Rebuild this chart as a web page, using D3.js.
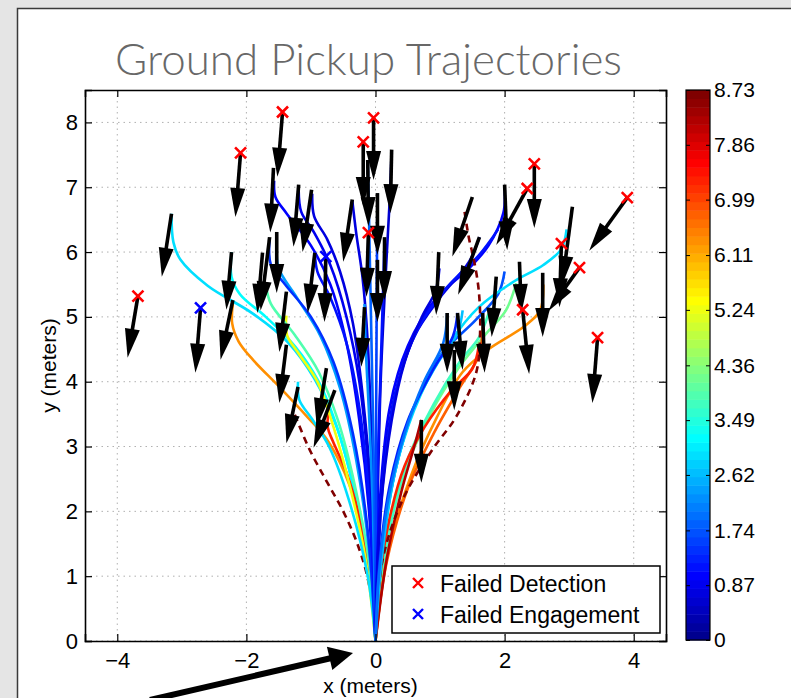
<!DOCTYPE html>
<html><head><meta charset="utf-8">
<script src="https://cdn.jsdelivr.net/npm/d3@7"></script>
<style>
html,body{margin:0;padding:0;background:#e6e6e6;}
svg{display:block;}
text{font-family:"Liberation Sans",Arial,Helvetica,sans-serif;}
</style></head>
<body>
<svg id="c" width="791" height="698"></svg>
<script>
// ---------- data ----------
const titleText = "Ground Pickup Trajectories";
const xLabel = "x (meters)";
const yLabel = "y (meters)";
const xTicks = [-4, -2, 0, 2, 4];
const yTicks = [0, 1, 2, 3, 4, 5, 6, 7, 8];
const cbarTicks = [0, 0.87, 1.74, 2.62, 3.49, 4.36, 5.24, 6.11, 6.99, 7.86, 8.73];
const cbarMax = 8.73;
const legendLabels = ["Failed Detection", "Failed Engagement"];

// failed detection markers (red x)
const failedDetection = [
  [-3.68,5.32],[-2.09,7.53],[-1.44,8.16],[-0.19,7.70],[-0.03,8.07],[-0.11,6.30],
  [2.46,7.36],[2.35,6.98],[3.90,6.84],[2.88,6.13],[3.16,5.76],[2.28,5.11],[3.44,4.68]
];
// failed engagement markers (blue x)
const failedEngagement = [[-2.71,5.14],[-0.77,5.93]];

// trajectory values (colour) and points (end point first, robot at origin)
const trajValues = [
  3.0, 3.2, 6.3, 8.73, 7.3, 5.3, 3.9, 2.9, 2.4, 1.0, 0.9, 0.7, 1.4, 1.2, 0.8, 2.2, 1.9, 0.6, 1.2, 1.6,
  1.0, 0.8, 1.1, 0.7, 1.7, 3.0, 4.1, 3.8, 6.3, 6.7, 7.3, 8.2, 8.73, 2.7, 1.3, 2.0
];
const trajDashed = [
  false,false,false,true,false,false,false,false,false,false,false,false,false,false,false,false,false,false,false,false,
  false,false,false,false,false,false,false,false,false,false,false,false,true,false,false,false
];
const trajPoints = [
  [[-3.16,6.59],[-3.13,6.15],[-3.02,5.88],[-2.6,5.48],[-1.9,5.05],[-1.35,4.6],[-0.95,4.05],[-0.6,3.3],[-0.3,2.2],[-0.08,1.0],[0,0]],
  [[-2.23,6.0],[-2.23,5.62],[-2.1,5.35],[-1.7,5.0],[-1.25,4.55],[-0.88,4.0],[-0.58,3.25],[-0.3,2.2],[-0.08,1.0],[0,0]],
  [[-2.21,5.2],[-2.22,4.9],[-2.12,4.62],[-1.9,4.34],[-1.49,3.92],[-1.05,3.45],[-0.76,3.12],[-0.48,2.6],[-0.27,2.0],[-0.1,1.1],[0,0]],
  [[-1.25,3.49],[-1.02,2.95],[-0.75,2.45],[-0.51,2.02],[-0.3,1.55],[-0.14,1.05],[-0.04,0.5],[0,0]],
  [[-0.72,3.58],[-0.74,3.3],[-0.66,3.08],[-0.45,2.6],[-0.25,1.9],[-0.08,0.9],[0,0]],
  [[-1.38,5.02],[-1.37,4.72],[-1.18,4.42],[-0.9,4.0],[-0.65,3.3],[-0.4,2.4],[-0.16,1.3],[0,0]],
  [[-1.69,5.45],[-1.62,5.2],[-1.25,4.72],[-0.88,4.15],[-0.58,3.4],[-0.32,2.4],[-0.1,1.2],[0,0]],
  [[-1.2,4.0],[-1.18,3.72],[-0.98,3.42],[-0.72,3.0],[-0.42,2.2],[-0.12,1.0],[0,0]],
  [[-1.53,6.1],[-1.5,5.75],[-1.22,5.3],[-0.85,4.7],[-0.55,3.9],[-0.3,2.8],[-0.1,1.4],[0,0]],
  [[-1.57,7.1],[-1.55,6.85],[-1.38,6.6],[-1.0,6.1],[-0.7,5.5],[-0.45,4.6],[-0.25,3.4],[-0.1,2.0],[0,0]],
  [[-1.19,6.95],[-1.15,6.62],[-0.95,6.3],[-0.7,5.8],[-0.45,5.0],[-0.25,4.0],[-0.1,2.5],[0,0]],
  [[-0.98,6.9],[-0.95,6.55],[-0.75,6.2],[-0.55,5.7],[-0.35,4.9],[-0.2,3.8],[-0.07,2.3],[0,0]],
  [[-1.64,6.2],[-1.62,5.8],[-1.4,5.5],[-1.0,5.0],[-0.65,4.3],[-0.35,3.2],[-0.12,1.7],[0,0]],
  [[-0.94,6.0],[-0.9,5.7],[-0.7,5.3],[-0.45,4.6],[-0.25,3.6],[-0.1,2.2],[0,0]],
  [[-0.36,6.8],[-0.3,6.3],[-0.2,5.6],[-0.12,4.6],[-0.06,3.0],[0,0]],
  [[-0.17,5.2],[-0.15,4.5],[-0.1,3.5],[-0.04,2.0],[0,0]],
  [[-0.12,7.4],[-0.1,6.5],[-0.07,5.0],[-0.03,3.0],[0,0]],
  [[0.25,7.55],[0.22,6.8],[0.15,5.5],[0.08,4.0],[0.03,2.0],[0,0]],
  [[0.14,6.2],[0.12,5.5],[0.08,4.2],[0.03,2.5],[0,0]],
  [[0.03,6.9],[0.02,5.5],[0.01,3.5],[0,0]],
  [[2.0,7.0],[1.98,6.6],[1.75,6.1],[1.45,5.75],[0.95,5.3],[0.5,4.55],[0.22,3.6],[0.07,2.2],[0,0]],
  [[1.61,6.23],[1.45,5.85],[1.0,5.3],[0.6,4.7],[0.3,3.8],[0.1,2.4],[0,0]],
  [[1.9,6.35],[1.6,5.95],[1.1,5.45],[0.65,4.8],[0.33,3.9],[0.12,2.5],[0,0]],
  [[0.99,5.75],[0.93,5.4],[0.72,5.0],[0.45,4.3],[0.25,3.4],[0.08,2.0],[0,0]],
  [[2.0,5.7],[1.9,5.35],[1.55,4.95],[1.0,4.4],[0.6,3.6],[0.3,2.6],[0.1,1.4],[0,0]],
  [[2.96,6.35],[2.88,6.05],[2.6,5.8],[2.15,5.55],[1.6,5.15],[1.15,4.6],[0.7,3.8],[0.35,2.8],[0.12,1.5],[0,0]],
  [[2.18,5.52],[2.02,5.1],[1.72,4.75],[1.3,4.23],[0.85,3.5],[0.45,2.6],[0.15,1.4],[0,0]],
  [[1.75,5.05],[1.6,4.68],[1.3,4.3],[0.9,3.65],[0.5,2.8],[0.18,1.5],[0,0]],
  [[2.6,5.5],[2.55,5.1],[2.3,4.85],[1.75,4.5],[1.35,4.15],[0.95,3.45],[0.55,2.55],[0.2,1.4],[0,0]],
  [[1.66,4.85],[1.6,4.4],[1.3,3.9],[0.9,3.2],[0.5,2.35],[0.17,1.2],[0,0]],
  [[1.6,4.55],[1.5,4.2],[1.18,3.87],[0.76,3.3],[0.45,2.7],[0.22,1.9],[0.06,0.9],[0,0]],
  [[0.71,3.41],[0.6,3.0],[0.4,2.3],[0.18,1.3],[0,0]],
  [[1.38,6.62],[1.45,6.2],[1.52,5.9],[1.6,5.4],[1.62,4.75],[1.56,4.14],[1.25,3.46],[0.88,2.95],[0.42,2.18],[0.11,1.25],[0,0]],
  [[1.35,5.1],[1.27,4.75],[0.97,4.3],[0.6,3.6],[0.3,2.6],[0.1,1.3],[0,0]],
  [[1.27,5.06],[1.2,4.7],[0.9,4.2],[0.5,3.4],[0.22,2.4],[0.06,1.2],[0,0]],
  [[1.11,5.06],[1.05,4.6],[0.75,4.0],[0.45,3.2],[0.2,2.2],[0.05,1.0],[0,0]]
];

// object motion arrows: [xTail, yTail, xTip, yTip]
const arrows = [
  [-3.68,5.32,-3.84,4.37],[-2.71,5.14,-2.79,4.14],[-2.09,7.53,-2.17,6.54],[-1.44,8.16,-1.52,7.16],
  [-0.19,7.70,-0.19,6.71],[-0.03,8.07,-0.03,7.11],[-0.11,6.30,-0.14,5.31],[2.46,7.36,2.46,6.37],
  [2.35,6.98,1.87,6.11],[3.90,6.84,3.31,6.02],[2.88,6.13,2.85,5.15],[3.16,5.76,2.68,5.09],
  [2.28,5.11,2.38,4.12],[3.44,4.68,3.36,3.67],[-0.77,5.93,-0.79,4.92],
  [-3.16,6.59,-3.31,5.62],[-2.23,6.0,-2.31,5.11],[-2.21,5.26,-2.40,4.34],[-1.58,7.30,-1.63,6.30],
  [-1.19,7.04,-1.27,6.08],[-0.99,6.96,-1.13,6.0],[-0.36,6.81,-0.50,5.85],[-1.64,6.23,-1.78,5.1],
  [-1.53,6.31,-1.53,5.37],[-1.75,5.99,-1.83,5.06],[-0.94,5.99,-1.05,5.06],[-1.38,5.39,-1.49,4.46],
  [-0.17,5.15,-0.22,4.23],[-0.12,7.42,-0.11,6.40],[0.03,6.91,0.03,5.96],[0.25,7.58,0.23,6.60],
  [0.14,6.23,0.14,5.26],[0.03,5.88,0.03,4.92],[1.50,6.85,1.19,5.93],[1.61,6.23,1.28,5.34],
  [0.98,6.0,0.94,5.03],[2.0,7.04,2.04,6.03],[3.05,6.70,2.89,5.49],[2.59,5.68,2.59,4.69],
  [2.23,5.85,2.26,5.06],[1.87,5.62,1.80,4.69],[1.11,5.06,1.11,4.14],[1.27,5.06,1.35,4.18],
  [1.66,5.06,1.69,4.14],[0.71,3.41,0.71,2.44],[-1.2,3.92,-1.38,3.05],[-0.76,4.21,-0.91,3.30],
  [-0.63,3.87,-0.96,2.98],[-1.38,4.57,-1.49,3.67],[1.22,4.49,1.22,3.56]
];

// ---------- drawing ----------
const svg = d3.select("#c");
const W = 791, H = 698;

// slide frame
svg.append("rect").attr("x",0).attr("y",0).attr("width",W).attr("height",H).attr("fill","#e5e5e5");
svg.append("rect").attr("x",17.5).attr("y",8.5).attr("width",W).attr("height",H)
  .attr("fill","#ffffff").attr("stroke","#3a3a3a").attr("stroke-width",1.5);

// title
svg.append("text").attr("x",115).attr("y",75).text(titleText)
  .attr("textLength",507).attr("lengthAdjust","spacingAndGlyphs")
  .style("font-family","Lato, 'Open Sans', sans-serif").style("font-weight",300)
  .style("font-size","44px").attr("fill","#686868");

const L = 85, R = 666, T = 90, B = 641;
const x = d3.scaleLinear().domain([-4.5, 4.5]).range([L, R]);
const y = d3.scaleLinear().domain([0, 8.5]).range([B, T]);

// jet colormap (64 levels)
function jet(v) {
  const i = Math.max(0, Math.min(63, Math.floor(v / cbarMax * 64)));
  const t = (i + 1) / 64;
  const c = a => Math.max(0, Math.min(1, a));
  const r = c(Math.min(4*t - 1.5, -4*t + 4.5));
  const g = c(Math.min(4*t - 0.5, -4*t + 3.5));
  const b = c(Math.min(4*t + 0.5, -4*t + 2.5));
  return d3.rgb(r*255, g*255, b*255).formatHex();
}

// plot background
svg.append("rect").attr("x",L).attr("y",T).attr("width",R-L).attr("height",B-T).attr("fill","#fff");

// grid
const grid = svg.append("g").attr("stroke","#b0b0b0").attr("stroke-width",1).attr("stroke-dasharray","1.5,4");
grid.selectAll(".gx").data(xTicks).join("line")
  .attr("x1",d=>x(d)).attr("x2",d=>x(d)).attr("y1",T).attr("y2",B);
grid.selectAll(".gy").data(yTicks).join("line")
  .attr("x1",L).attr("x2",R).attr("y1",d=>y(d)).attr("y2",d=>y(d));

// clip
svg.append("clipPath").attr("id","clip").append("rect").attr("x",L).attr("y",T).attr("width",R-L).attr("height",B-T);
const plot = svg.append("g").attr("clip-path","url(#clip)");

// trajectories
const line = d3.line().x(d=>x(d[0])).y(d=>y(d[1])).curve(d3.curveCatmullRom.alpha(0.5));
const trajData = trajPoints.map((p,i)=>({pts:p, v:trajValues[i], dashed:trajDashed[i]}));
plot.selectAll("path.traj").data(trajData).join("path").attr("class","traj")
  .attr("d",d=>line(d.pts)).attr("fill","none")
  .attr("stroke",d=>jet(d.v)).attr("stroke-width",2.6)
  .attr("stroke-dasharray",d=>d.dashed?"7,5":null);

// arrows
const HL = 29, HW = 7.5;
const ag = plot.append("g");
arrows.forEach(a => {
  const x0 = x(a[0]), y0 = y(a[1]), x1 = x(a[2]), y1 = y(a[3]);
  const dx = x1-x0, dy = y1-y0, len = Math.hypot(dx,dy);
  const ux = dx/len, uy = dy/len;
  const bx = x1-ux*HL, by = y1-uy*HL;
  ag.append("line").attr("x1",x0).attr("y1",y0).attr("x2",bx+ux*2).attr("y2",by+uy*2)
    .attr("stroke","#000").attr("stroke-width",3.6);
  ag.append("path").attr("d",`M${x1},${y1}L${bx-uy*HW},${by+ux*HW}L${bx+uy*HW},${by-ux*HW}Z`)
    .attr("fill","#000");
});

// markers
function cross(g, data, color) {
  const s = 5.5;
  g.selectAll(null).data(data).join("path")
    .attr("d",d=>`M${x(d[0])-s},${y(d[1])-s}L${x(d[0])+s},${y(d[1])+s}M${x(d[0])-s},${y(d[1])+s}L${x(d[0])+s},${y(d[1])-s}`)
    .attr("stroke",color).attr("stroke-width",2.6).attr("fill","none");
}
cross(plot.append("g"), failedDetection, "#ff0000");
cross(plot.append("g"), failedEngagement, "#0000ff");

// axes (inward ticks, box)
const axFont = "22px";
const gB = svg.append("g").attr("transform",`translate(0,${B})`)
  .call(d3.axisBottom(x).tickValues(xTicks).tickSize(-7).tickPadding(11));
const gL = svg.append("g").attr("transform",`translate(${L},0)`)
  .call(d3.axisLeft(y).tickValues(yTicks).tickSize(-7).tickPadding(7));
const gT = svg.append("g").attr("transform",`translate(0,${T})`)
  .call(d3.axisTop(x).tickValues(xTicks).tickSize(-7).tickFormat(""));
const gR = svg.append("g").attr("transform",`translate(${R},0)`)
  .call(d3.axisRight(y).tickValues(yTicks).tickSize(-7).tickFormat(""));
[gB,gL,gT,gR].forEach(g=>{
  g.select(".domain").attr("stroke","#000").attr("stroke-width",1.6);
  g.selectAll(".tick line").attr("stroke","#000").attr("stroke-width",1.2);
  g.selectAll("text").style("font-size",axFont).style("font-family","'Liberation Sans',Arial,sans-serif").attr("fill","#000");
});

// axis labels
svg.append("text").attr("x",(L+R)/2 - 5).attr("y",693).attr("text-anchor","middle")
  .style("font-size","21px").text(xLabel);
svg.append("text").attr("transform",`translate(56,${(T+B)/2}) rotate(-90)`).attr("text-anchor","middle")
  .style("font-size","21px").text(yLabel);

// legend
const lg = svg.append("g");
lg.append("rect").attr("x",392).attr("y",566).attr("width",268).attr("height",67)
  .attr("fill","#fff").attr("stroke","#000").attr("stroke-width",1.5);
const legColors = ["#ff0000","#0000ff"];
legendLabels.forEach((lab,i)=>{
  const cy = 583 + i*31, cx = 418, s = 5;
  lg.append("path").attr("d",`M${cx-s},${cy-s}L${cx+s},${cy+s}M${cx-s},${cy+s}L${cx+s},${cy-s}`)
    .attr("stroke",legColors[i]).attr("stroke-width",2.4);
  lg.append("text").attr("x",440).attr("y",cy+8.5).style("font-size","23px").text(lab);
});

// colorbar
const cbL = 686, cbR = 710, cbT = 90, cbB = 640;
const cb = d3.scaleLinear().domain([0, cbarMax]).range([cbB, cbT]);
const levels = d3.range(64);
svg.append("g").selectAll("rect").data(levels).join("rect")
  .attr("x",cbL).attr("width",cbR-cbL)
  .attr("y",d=>cb((d+1)*cbarMax/64)).attr("height",d=>cb(d*cbarMax/64)-cb((d+1)*cbarMax/64)+0.5)
  .attr("fill",d=>jet((d+0.5)*cbarMax/64));
svg.append("rect").attr("x",cbL).attr("y",cbT).attr("width",cbR-cbL).attr("height",cbB-cbT)
  .attr("fill","none").attr("stroke","#000").attr("stroke-width",1.2);
const cbAxR = svg.append("g").attr("transform",`translate(${cbR},0)`)
  .call(d3.axisRight(cb).tickValues(cbarTicks).tickSize(-4).tickPadding(4)
    .tickFormat(d=> d===0 ? "0" : d.toFixed(2)));
const cbAxL = svg.append("g").attr("transform",`translate(${cbL},0)`)
  .call(d3.axisLeft(cb).tickValues(cbarTicks).tickSize(-4).tickFormat(""));
[cbAxR, cbAxL].forEach(g=>{
  g.select(".domain").remove();
  g.selectAll(".tick line").attr("stroke","#000").attr("stroke-width",1);
  g.selectAll("text").style("font-size","21px").style("font-family","'Liberation Sans',Arial,sans-serif").attr("fill","#000");
});

// slide annotation arrow pointing at the origin
const annTail = [150, 700], annTip = [353, 653];
{
  const dx = annTip[0]-annTail[0], dy = annTip[1]-annTail[1], len = Math.hypot(dx,dy);
  const ux = dx/len, uy = dy/len, hl = 24, hw = 12;
  const bx = annTip[0]-ux*hl, by = annTip[1]-uy*hl;
  svg.append("line").attr("x1",annTail[0]).attr("y1",annTail[1]).attr("x2",bx+ux*2).attr("y2",by+uy*2)
    .attr("stroke","#000").attr("stroke-width",6);
  svg.append("path").attr("d",`M${annTip[0]},${annTip[1]}L${bx-uy*hw},${by+ux*hw}L${bx+uy*hw},${by-ux*hw}Z`).attr("fill","#000");
}
</script>
</body></html>
